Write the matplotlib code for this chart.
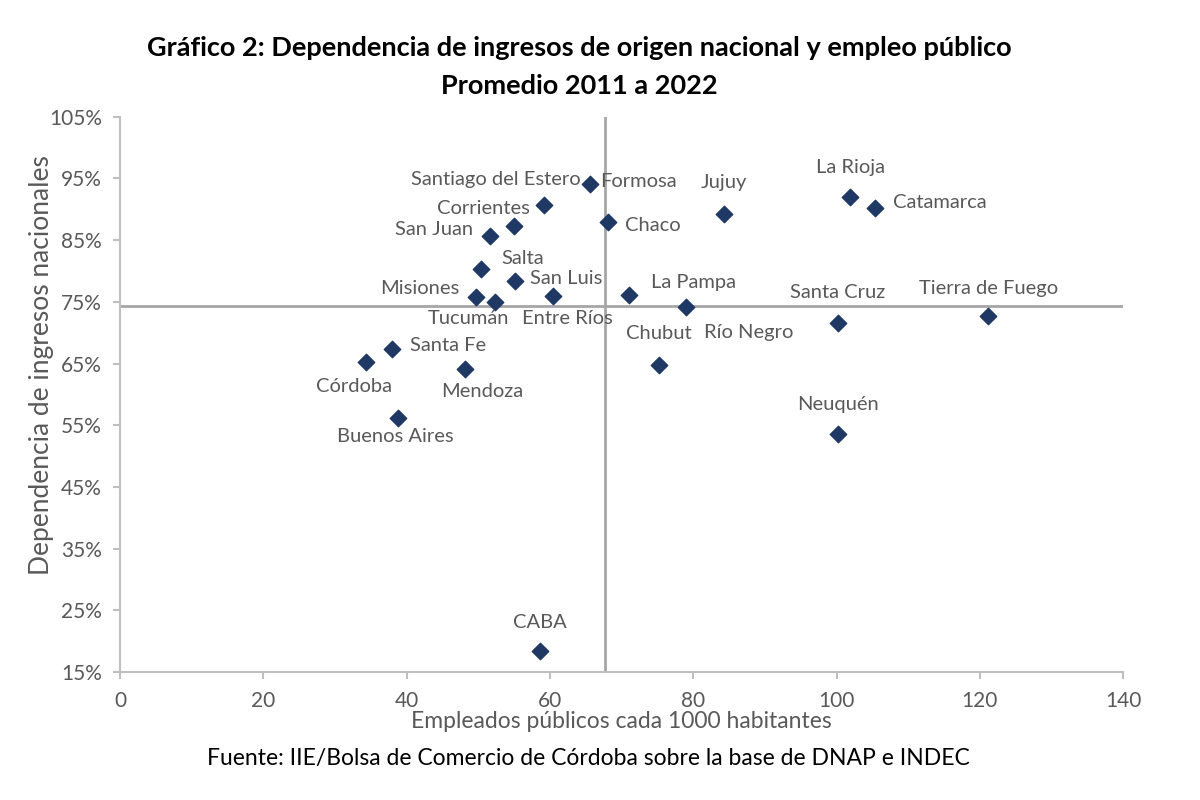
import matplotlib.pyplot as plt
import numpy as np

# datos
provincias = ["Formosa", "Santiago del Estero", "Corrientes", "San Juan", "Salta",
              "San Luis", "Misiones", "Tucumán", "Entre Ríos", "Chaco", "La Pampa",
              "Río Negro", "Chubut", "Jujuy", "La Rioja", "Catamarca", "Santa Cruz",
              "Tierra de Fuego", "Neuquén", "Santa Fe", "Córdoba", "Mendoza",
              "Buenos Aires", "CABA"]
empleo = [65.6, 59.2, 55.0, 51.6, 50.4, 55.1, 49.7, 52.3, 60.4, 68.1, 71.0,
          79.0, 75.2, 84.3, 101.9, 105.4, 100.2, 121.2, 100.2, 38.0, 34.3, 48.2,
          38.8, 58.6]
dependencia = [94.1, 90.7, 87.3, 85.7, 80.3, 78.4, 75.8, 75.0, 76.0, 88.0, 76.1,
               74.2, 64.8, 89.3, 92.0, 90.2, 71.6, 72.7, 53.6, 67.4, 65.3, 64.1,
               56.2, 18.4]
prom_empleo = 67.7
prom_dependencia = 74.35

# posicion de cada etiqueta (offset en pixeles, alineacion)
etiquetas = {
    "Formosa": (10, 3, "left"), "Santiago del Estero": (36, 26, "right"),
    "Corrientes": (-31, 17, "center"), "San Juan": (-17, 6, "right"),
    "Salta": (42, 11, "center"), "San Luis": (15, 2, "left"),
    "Misiones": (-17, 8, "right"), "Tucumán": (-26, -17, "center"),
    "Entre Ríos": (15, -23, "center"), "Chaco": (17, -4, "left"),
    "La Pampa": (65, 13, "center"), "Río Negro": (63, -26, "center"),
    "Chubut": (0, 31, "center"), "Jujuy": (0, 31, "center"),
    "La Rioja": (0, 29, "center"), "Catamarca": (18, 6, "left"),
    "Santa Cruz": (0, 30, "center"), "Tierra de Fuego": (0, 28, "center"),
    "Neuquén": (0, 29, "center"), "Santa Fe": (18, 3, "left"),
    "Córdoba": (-12, -25, "center"), "Mendoza": (17, -22, "center"),
    "Buenos Aires": (-3, -19, "center"), "CABA": (0, 29, "center"),
}

plt.rcParams['font.family'] = ['Lato', 'DejaVu Sans']
gris = '#595959'

fig = plt.figure(figsize=(12, 8), dpi=100)
ax = fig.add_axes([0.1, 0.16, 0.836, 0.694])

ax.axvline(prom_empleo, color='#a6a6a6', lw=2, zorder=1)
ax.axhline(prom_dependencia, color='#a6a6a6', lw=2, zorder=1)
ax.scatter(empleo, dependencia, marker='D', s=70, color='#1f3864', zorder=3)

for nombre, x, y in zip(provincias, empleo, dependencia):
    dx, dy, ha = etiquetas[nombre]
    ax.annotate(nombre, (x, y), xytext=(dx, dy), textcoords='offset pixels',
                ha=ha, va='center', fontsize=14.5, color=gris)

ax.set_xlim(0, 140)
ax.set_ylim(15, 105)
ax.set_xticks(np.arange(0, 141, 20))
ax.set_yticks(np.arange(15, 106, 10))
ax.set_yticklabels([f"{v}%" for v in range(15, 106, 10)])
ax.tick_params(colors='#bfbfbf', labelcolor=gris, labelsize=15, length=5, width=1.5)
ax.tick_params(axis='x', pad=9)
ax.tick_params(axis='y', pad=8)
for s in ['top', 'right']:
    ax.spines[s].set_visible(False)
for s in ['left', 'bottom']:
    ax.spines[s].set_color('#bfbfbf')
    ax.spines[s].set_linewidth(1.5)

ax.set_xlabel("Empleados públicos cada 1000 habitantes", fontsize=16.5, color=gris, labelpad=0)
ax.set_ylabel("Dependencia de ingresos nacionales", fontsize=19, color=gris)
ax.yaxis.set_label_coords(-0.066, 0.553)

fig.text(0.483, 0.94, "Gráfico 2: Dependencia de ingresos de origen nacional y empleo público",
         ha='center', va='center', fontsize=19.5, fontweight='bold')
fig.text(0.483, 0.893, "Promedio 2011 a 2022", ha='center', va='center',
         fontsize=19.5, fontweight='bold')
fig.text(0.49, 0.052, "Fuente: IIE/Bolsa de Comercio de Córdoba sobre la base de DNAP e INDEC",
         ha='center', va='center', fontsize=16.5)

plt.savefig("out.png")
